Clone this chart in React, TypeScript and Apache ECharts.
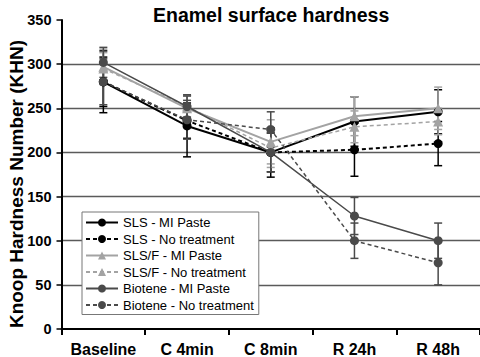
import React, { useEffect, useRef } from 'react';
import * as echarts from 'echarts';

const categories = ['Baseline', 'C 4min', 'C 8min', 'R 24h', 'R 48h'];
const yTicks = [0, 50, 100, 150, 200, 250, 300, 350];

const slsMi = [280, 230, 200, 235, 246];
const slsMiErr = [35, 35, 22, 28, 25];
const slsNo = [280, 236, 200, 203, 210];
const slsNoErr = [28, 20, 28, 30, 25];
const slsfMi = [297, 250, 212, 241, 250];
const slsfMiErr = [20, 14, 25, 22, 24];
const slsfNo = [295, 252, 205, 229, 235];
const slsfNoErr = [18, 12, 22, 18, 15];
const bioMi = [302, 252, 200, 128, 100];
const bioMiErr = [17, 12, 22, 21, 20];
const bioNo = [280, 237, 226, 100, 75];
const bioNoErr = [26, 22, 20, 20, 25];

const seriesNames = [
  'SLS - MI Paste',
  'SLS - No treatment',
  'SLS/F - MI Paste',
  'SLS/F - No treatment',
  'Biotene - MI Paste',
  'Biotene - No treatment',
];

const FONT = '"Liberation Sans", Arial, sans-serif';

export default function App() {
  const ref = useRef<HTMLDivElement>(null);
  useEffect(() => {
    if (!ref.current) return;
    const chart = echarts.init(ref.current, undefined, { renderer: 'svg' });
    const defs = [
      { name: seriesNames[0], data: slsMi, err: slsMiErr, color: '#000000', dash: 'solid', symbol: 'circle', width: 2 },
      { name: seriesNames[1], data: slsNo, err: slsNoErr, color: '#000000', dash: [4, 3], symbol: 'circle', width: 2 },
      { name: seriesNames[2], data: slsfMi, err: slsfMiErr, color: '#a3a3a3', dash: 'solid', symbol: 'triangle', width: 2 },
      { name: seriesNames[3], data: slsfNo, err: slsfNoErr, color: '#a3a3a3', dash: [4, 3], symbol: 'triangle', width: 1.5 },
      { name: seriesNames[4], data: bioMi, err: bioMiErr, color: '#4a4a4a', dash: 'solid', symbol: 'circle', width: 1.5 },
      { name: seriesNames[5], data: bioNo, err: bioNoErr, color: '#4a4a4a', dash: [4, 3], symbol: 'circle', width: 1.5 },
    ];
    const errSeries = defs.map((d, si) => ({
      type: 'custom',
      name: 'err' + si,
      z: 1,
      data: d.data.map((v, i) => [i, v - d.err[i], v + d.err[i]]),
      renderItem: (params: any, api: any) => {
        const x = api.value(0);
        const lo = api.coord([x, api.value(1)]);
        const hi = api.coord([x, api.value(2)]);
        const cw = 4;
        const style = { stroke: d.color, lineWidth: 1.5, fill: 'none' };
        return {
          type: 'group',
          children: [
            { type: 'line', shape: { x1: lo[0], y1: lo[1], x2: hi[0], y2: hi[1] }, style },
            { type: 'line', shape: { x1: lo[0] - cw, y1: lo[1], x2: lo[0] + cw, y2: lo[1] }, style },
            { type: 'line', shape: { x1: hi[0] - cw, y1: hi[1], x2: hi[0] + cw, y2: hi[1] }, style },
          ],
        };
      },
    }));
    const lineSeries = defs.map((d) => ({
      type: 'line',
      name: d.name,
      z: 3,
      data: d.data,
      symbol: d.symbol,
      symbolSize: d.symbol === 'triangle' ? 10 : 9,
      lineStyle: { color: d.color, type: d.dash, width: d.width },
      itemStyle: { color: d.color },
    }));
    chart.setOption({
      animation: false,
      title: {
        text: 'Enamel surface hardness',
        left: 148,
        top: 0,
        textStyle: { fontFamily: FONT, fontWeight: 'bold', fontSize: 19.5, color: '#000' },
      },
      graphic: [
        {
          type: 'text',
          x: 16,
          y: 184,
          rotation: Math.PI / 2,
          style: {
            text: 'Knoop Hardness Number (KHN)',
            fontFamily: FONT,
            fontWeight: 'bold',
            fontSize: 19,
            fill: '#000',
            textAlign: 'center',
            textVerticalAlign: 'middle',
          },
        },
      ],
      grid: { left: 61.5, right: -6.5, top: 20, bottom: 27.5 },
      legend: {
        orient: 'vertical',
        left: 82,
        top: 212,
        data: seriesNames,
        backgroundColor: '#fff',
        borderColor: '#777',
        borderWidth: 1,
        borderRadius: 0,
        padding: [4, 5, 3, 3],
        itemWidth: 32,
        itemHeight: 10,
        itemGap: 3.5,
        textStyle: { fontFamily: FONT, fontSize: 13, color: '#000', lineHeight: 13 },
      },
      xAxis: {
        type: 'category',
        data: categories,
        boundaryGap: true,
        axisLine: { lineStyle: { color: '#000', width: 2 } },
        axisTick: { show: true, length: 6, inside: false, lineStyle: { color: '#000', width: 2 } },
        axisLabel: { interval: 0, fontFamily: FONT, fontWeight: 'bold', fontSize: 16, color: '#000', margin: 12 },
        splitLine: { show: false },
      },
      yAxis: {
        type: 'value',
        min: 0,
        max: 350,
        interval: 50,
        axisLine: { show: true, lineStyle: { color: '#000', width: 2 } },
        axisTick: { show: true, length: 5, lineStyle: { color: '#000', width: 1.5 } },
        axisLabel: {
          fontFamily: FONT,
          fontWeight: 'bold',
          fontSize: 14.5,
          color: '#000',
          margin: 10,
          formatter: (v: number) => (yTicks.includes(v) ? String(v) : ''),
        },
        splitLine: { show: true, showMinLine: false, showMaxLine: false, lineStyle: { color: '#5a5a5a', width: 1.3 } },
      },
      series: [...errSeries, ...lineSeries],
    });
    return () => chart.dispose();
  }, []);
  return <div ref={ref} style={{ width: 480, height: 357, position: 'absolute', left: 0, top: 0, background: '#fff' }} />;
}
